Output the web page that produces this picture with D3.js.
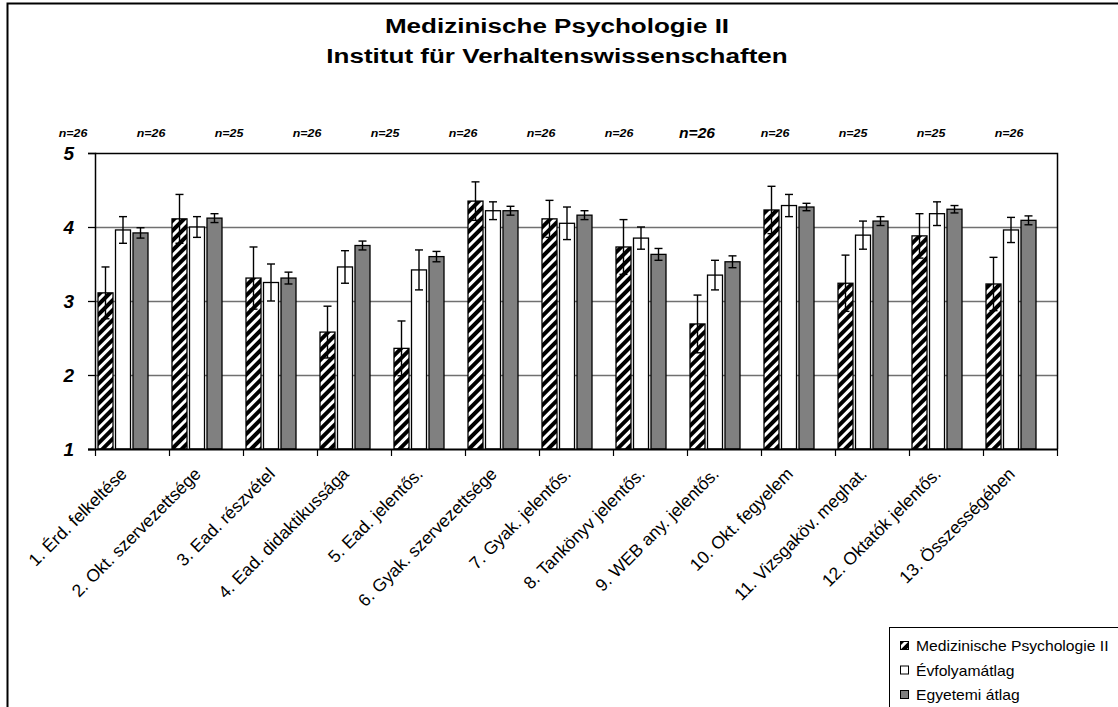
<!DOCTYPE html>
<html>
<head>
<meta charset="utf-8">
<script src="https://cdn.jsdelivr.net/npm/d3@7"></script>
<style>
  body { margin: 0; background: #fff; }
  text { font-family: Arial, "Liberation Sans", sans-serif; }
</style>
</head>
<body>
<svg id="chart" width="1118" height="707"></svg>
<script>
// Category labels on the x axis.
const categories = [
  '1. Érd. felkeltése', '2. Okt. szervezettsége', '3. Ead. részvétel',
  '4. Ead. didaktikussága', '5. Ead. jelentős.', '6. Gyak. szervezettsége',
  '7. Gyak. jelentős.', '8. Tankönyv jelentős.', '9. WEB any. jelentős.',
  '10. Okt. fegyelem', '11. Vizsgaköv. meghat.', '12. Oktatók jelentős.',
  '13. Összességében'
];
const seriesNames = ['Medizinische Psychologie II', 'Évfolyamátlag', 'Egyetemi átlag'];

// Means.
const subjectMeans = [3.11, 4.11, 3.31, 2.58, 2.36, 4.35, 4.11, 3.73, 2.69, 4.23, 3.24, 3.88, 3.23];
const yearMeans = [3.96, 4.00, 3.25, 3.46, 3.42, 4.22, 4.05, 3.85, 3.35, 4.29, 3.89, 4.18, 3.96];
const uniMeans = [3.92, 4.12, 3.31, 3.75, 3.60, 4.22, 4.16, 3.63, 3.53, 4.27, 4.08, 4.24, 4.09];

// Error bar half lengths.
const subjectErr = [0.35, 0.33, 0.42, 0.35, 0.37, 0.26, 0.25, 0.37, 0.39, 0.32, 0.38, 0.30, 0.36];
const yearErr = [0.18, 0.14, 0.25, 0.22, 0.27, 0.12, 0.22, 0.15, 0.20, 0.15, 0.19, 0.16, 0.17];
const uniErr = [0.07, 0.06, 0.08, 0.06, 0.07, 0.06, 0.06, 0.08, 0.08, 0.05, 0.06, 0.05, 0.06];

// Sample sizes printed above the plot.
const sampleSizes = [26, 26, 25, 26, 25, 26, 26, 26, 26, 26, 25, 25, 26];

const yTicks = [1, 2, 3, 4, 5];

const svg = d3.select('#chart');

// Hatched fill for the first series.
const defs = svg.append('defs');
const hatch = defs.append('pattern')
  .attr('id', 'hatch')
  .attr('patternUnits', 'userSpaceOnUse')
  .attr('width', 7)
  .attr('height', 7)
  .attr('patternTransform', 'rotate(45)');
hatch.append('rect').attr('width', 7).attr('height', 7).attr('fill', '#000');
hatch.append('rect').attr('x', 0).attr('width', 3).attr('height', 7).attr('fill', '#fff');

const fills = ['url(#hatch)', '#fff', '#808080'];

// Outer chart frame (runs off the right and bottom of the window).
svg.append('rect')
  .attr('x', 7.5).attr('y', 3.5)
  .attr('width', 1300).attr('height', 900)
  .attr('fill', 'none')
  .attr('stroke', '#000')
  .attr('stroke-width', 2);

// Title. The source chart's text is drawn a bit wider than plain Arial.
const titleLines = ['Medizinische Psychologie II', 'Institut für Verhaltenswissenschaften'];
svg.append('g')
  .selectAll('text')
  .data(titleLines)
  .join('text')
  .attr('transform', (d, i) => `translate(557,${33 + i * 30}) scale(1.24,1)`)
  .attr('text-anchor', 'middle')
  .attr('font-size', 21).attr('font-weight', 'bold')
  .text((d) => d);

const plot = { left: 95, right: 1057, top: 153, bottom: 449 };

const x = d3.scaleBand()
  .domain(categories)
  .range([plot.left, plot.right])
  .padding(0);

// Four slots per category; the last one stays empty (as in the original Excel layout).
const slot = d3.scaleBand()
  .domain([0, 1, 2, 3])
  .range([2, x.bandwidth() - 2]);
const barWidth = slot.bandwidth() - 2.5;

const y = d3.scaleLinear().domain([1, 5]).range([plot.bottom, plot.top]);

// Gridlines.
svg.append('g')
  .selectAll('line')
  .data(yTicks.filter((t) => t > 1 && t < 5))
  .join('line')
  .attr('x1', plot.left).attr('x2', plot.right)
  .attr('y1', (d) => y(d) + 0.5).attr('y2', (d) => y(d) + 0.5)
  .attr('stroke', '#707070')
  .attr('stroke-width', 1.3);

// Bars and error bars.
const means = [subjectMeans, yearMeans, uniMeans];
const errs = [subjectErr, yearErr, uniErr];
const barData = [];
categories.forEach((c, i) => {
  means.forEach((m, s) => {
    barData.push({ cat: c, s, v: m[i], e: errs[s][i] });
  });
});

const barX = (d) => x(d.cat) + slot(d.s) + 1;

svg.append('g')
  .selectAll('rect')
  .data(barData)
  .join('rect')
  .attr('x', (d) => barX(d))
  .attr('y', (d) => y(d.v))
  .attr('width', barWidth)
  .attr('height', (d) => y(1) - y(d.v))
  .attr('fill', (d) => fills[d.s])
  .attr('stroke', '#000')
  .attr('stroke-width', 1.3);

const errG = svg.append('g')
  .attr('stroke', '#000')
  .attr('stroke-width', 1.4);
const cap = 4;
errG.selectAll('line.stem')
  .data(barData)
  .join('line')
  .attr('class', 'stem')
  .attr('x1', (d) => barX(d) + barWidth / 2)
  .attr('x2', (d) => barX(d) + barWidth / 2)
  .attr('y1', (d) => y(d.v + d.e))
  .attr('y2', (d) => y(d.v - d.e));
errG.selectAll('line.top')
  .data(barData)
  .join('line')
  .attr('class', 'top')
  .attr('x1', (d) => barX(d) + barWidth / 2 - cap)
  .attr('x2', (d) => barX(d) + barWidth / 2 + cap)
  .attr('y1', (d) => y(d.v + d.e))
  .attr('y2', (d) => y(d.v + d.e));
errG.selectAll('line.bottom')
  .data(barData)
  .join('line')
  .attr('class', 'bottom')
  .attr('x1', (d) => barX(d) + barWidth / 2 - cap)
  .attr('x2', (d) => barX(d) + barWidth / 2 + cap)
  .attr('y1', (d) => y(d.v - d.e))
  .attr('y2', (d) => y(d.v - d.e));

// Plot frame: top and right sides.
svg.append('path')
  .attr('d', `M${plot.left},${plot.top + 0.5}H${plot.right + 0.5}V${plot.bottom}`)
  .attr('fill', 'none')
  .attr('stroke', '#000')
  .attr('stroke-width', 1.5);

// Y axis.
const yAxis = svg.append('g')
  .attr('transform', `translate(${plot.left},0)`)
  .call(d3.axisLeft(y).tickValues(yTicks).tickSize(7).tickPadding(14).tickFormat(d3.format('d')));
yAxis.select('.domain').attr('stroke-width', 1.5);
yAxis.selectAll('.tick line').attr('stroke-width', 1.3);
yAxis.selectAll('text')
  .attr('font-size', 19)
  .attr('font-weight', 'bold')
  .attr('font-style', 'italic')
  .attr('font-family', 'Arial, "Liberation Sans", sans-serif')
  .attr('fill', '#000');

// X axis: ticks at category boundaries.
const xAxis = svg.append('g')
  .attr('transform', `translate(0,${plot.bottom})`);
xAxis.append('line')
  .attr('x1', plot.left - 7).attr('x2', plot.right + 0.5)
  .attr('y1', 0.5).attr('y2', 0.5)
  .attr('stroke', '#000').attr('stroke-width', 2);
xAxis.selectAll('line.tick')
  .data(categories.concat(['end']))
  .join('line')
  .attr('class', 'tick')
  .attr('x1', (d, i) => (i < categories.length ? x(d) : plot.right) + 0.5)
  .attr('x2', (d, i) => (i < categories.length ? x(d) : plot.right) + 0.5)
  .attr('y1', 0).attr('y2', 7)
  .attr('stroke', '#000').attr('stroke-width', 1.2);

xAxis.selectAll('text')
  .data(categories)
  .join('text')
  .attr('transform', (d) => `translate(${x(d) + x.bandwidth() / 2 - 4},${26}) rotate(-45)`)
  .attr('text-anchor', 'end')
  .attr('font-size', 17.5)
  .attr('fill', '#000')
  .text((d) => d);

// Sample size labels: their own slightly wider spacing, as laid out in the source.
const nx = d3.scalePoint()
  .domain(categories)
  .range([73, 1009]);
svg.append('g')
  .selectAll('text')
  .data(sampleSizes)
  .join('text')
  .attr('transform', (d, i) => `translate(${nx(categories[i])},${i === 8 ? 138 : 137}) scale(1.08,1)`)
  .attr('text-anchor', 'middle')
  .attr('font-size', (d, i) => (i === 8 ? 14.5 : 11.5))
  .attr('font-weight', 'bold')
  .attr('font-style', 'italic')
  .text((d) => `n=${d}`);

// Legend.
const legend = svg.append('g');
legend.append('rect')
  .attr('x', 889.5).attr('y', 627.5)
  .attr('width', 300).attr('height', 120)
  .attr('fill', '#fff')
  .attr('stroke', '#000')
  .attr('stroke-width', 1);
const legendItems = legend.selectAll('g.item')
  .data(seriesNames)
  .join('g')
  .attr('class', 'item')
  .attr('transform', (d, i) => `translate(900,${646 + i * 24.5})`);
legendItems.append('rect')
  .attr('x', 0.5).attr('y', -4.5)
  .attr('width', 8).attr('height', 8)
  .attr('fill', (d, i) => fills[i])
  .attr('stroke', '#000')
  .attr('stroke-width', 1);
legendItems.append('text')
  .attr('transform', 'translate(16,5) scale(1.12,1)')
  .attr('font-size', 14)
  .text((d) => d);
</script>
</body>
</html>
